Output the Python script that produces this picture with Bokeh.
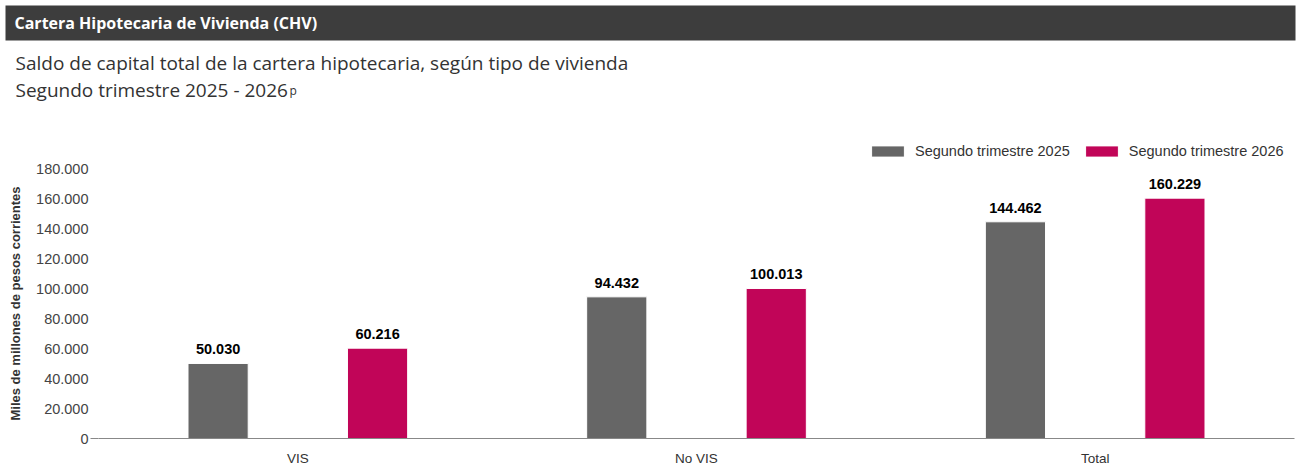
#Cartera Hipotecaria de Vivienda - bokeh bar chart

from bokeh.plotting import figure
from bokeh.layouts import column
from bokeh.models import (ColumnDataSource, FactorRange, Range1d, FixedTicker,
                          Legend, LegendItem, LinearAxis)
from bokeh.transform import dodge
from bokeh.core.properties import value
from bokeh.embed import file_html
from bokeh.resources import INLINE

#data
categorias = ["VIS", "No VIS", "Total"]
trim_2025 = [50030, 94432, 144462]
trim_2026 = [60216, 100013, 160229]
series = ["Segundo trimestre 2025", "Segundo trimestre 2026"]
y_ticks = [0, 20000, 40000, 60000, 80000, 100000, 120000, 140000, 160000, 180000]
y_tick_labels = ["0", "20.000", "40.000", "60.000", "80.000", "100.000",
                 "120.000", "140.000", "160.000", "180.000"]

titulo = "Cartera Hipotecaria de Vivienda (CHV)"
subtitulo1 = "Saldo de capital total de la cartera hipotecaria, según tipo de vivienda"
subtitulo2 = "Segundo trimestre 2025 - 2026"

GRIS = "#666666"
ROJO = "#C10558"
W = 1300
H1 = 159
H2 = 468 - H1


def miles(v):
    return f"{v:,}".replace(",", ".")


#header (title band, subtitles and legend)
h = figure(width=W, height=H1, x_range=Range1d(0, W), y_range=Range1d(H1, 0),
           toolbar_location=None, output_backend="svg", x_axis_location=None,
           y_axis_location=None, min_border=0, outline_line_color=None)
h.frame_align = False
h.grid.visible = False
h.quad(left=[5], right=[1295], top=[5], bottom=[40], fill_color="#3d3d3d", line_color=None)
h.text(x=[14], y=[22], text=[titulo], text_baseline="middle", text_color="white",
       text_font=value("Open Sans"), text_font_style="bold", text_font_size="16px")
h.text(x=[15], y=[62], text=[subtitulo1], text_baseline="middle", text_color="#333333",
       text_font=value("Open Sans"), text_font_size="19px")
h.text(x=[15], y=[89], text=[subtitulo2], text_baseline="middle", text_color="#333333",
       text_font=value("Open Sans"), text_font_size="19px")
h.text(x=[289], y=[90], text=["p"], text_baseline="alphabetic", text_color="#333333",
       text_font=value("Open Sans"), text_font_size="12px")

# legend swatches: zero-height bars out of view, used only by the legend
la = h.vbar(x=[-50], top=[0], width=1, fill_color=GRIS, line_color="white")
lb = h.vbar(x=[-50], top=[0], width=1, fill_color=ROJO, line_color="white")
legend = Legend(items=[LegendItem(label=series[0], renderers=[la]),
                       LegendItem(label=series[1], renderers=[lb])],
                orientation="horizontal", location=(867, 0),
                glyph_width=41, glyph_height=14, label_height=14,
                label_standoff=7, spacing=11, padding=0, margin=0,
                border_line_color=None, background_fill_alpha=0,
                label_text_font="Liberation Sans", label_text_font_size="14.5px",
                label_text_color="#333333")
h.add_layout(legend)

#chart
src = ColumnDataSource(dict(cat=categorias, a=trim_2025, b=trim_2026,
                            la=[miles(v) for v in trim_2025],
                            lb=[miles(v) for v in trim_2026]))

p = figure(width=W, height=H2,
           x_range=FactorRange(factors=categorias, range_padding=0),
           y_range=Range1d(0, 180000), y_axis_location=None,
           toolbar_location=None, output_backend="svg",
           min_border_left=98, min_border_right=6, min_border_top=9, min_border_bottom=30,
           outline_line_color=None)
p.frame_align = False
p.grid.visible = False

p.vbar(x=dodge("cat", -0.2, range=p.x_range), top="a", width=0.151, source=src,
       fill_color=GRIS, line_color="white", line_width=1)
p.vbar(x=dodge("cat", 0.2, range=p.x_range), top="b", width=0.151, source=src,
       fill_color=ROJO, line_color="white", line_width=1)

p.text(x=dodge("cat", -0.2, range=p.x_range), y="a", text="la", source=src,
       text_align="center", text_baseline="bottom", y_offset=-9,
       text_font=value("Liberation Sans"), text_font_style="bold",
       text_font_size="14.5px", text_color="black")
p.text(x=dodge("cat", 0.2, range=p.x_range), y="b", text="lb", source=src,
       text_align="center", text_baseline="bottom", y_offset=-9,
       text_font=value("Liberation Sans"), text_font_style="bold",
       text_font_size="14.5px", text_color="black")

#x axis
p.xaxis.axis_line_color = "#888888"
p.xaxis.major_tick_line_color = None
p.xaxis.major_tick_out = 0
p.xaxis.minor_tick_line_color = None
p.xaxis.major_label_standoff = 12
p.xaxis.major_label_text_font = "Liberation Sans"
p.xaxis.major_label_text_font_size = "13.5px"
p.xaxis.major_label_text_color = "#333333"

#small tick at 0, then the labelled y axis
y0 = LinearAxis(ticker=FixedTicker(ticks=[0]), axis_line_color=None,
                major_tick_in=0, major_tick_out=8, major_tick_line_color="#888888",
                minor_tick_line_color=None, major_label_overrides={0: ""},
                major_label_standoff=0)
p.add_layout(y0, "left")

yax = LinearAxis(ticker=FixedTicker(ticks=y_ticks),
                 major_label_overrides={t: l for t, l in zip(y_ticks, y_tick_labels)},
                 axis_line_color=None, major_tick_line_color=None, major_tick_out=0,
                 minor_tick_line_color=None, major_label_standoff=2,
                 major_label_text_font="Liberation Sans",
                 major_label_text_font_size="14.5px", major_label_text_color="#444444",
                 axis_label="Miles de millones de pesos corrientes",
                 axis_label_text_font="Liberation Sans", axis_label_text_font_style="bold",
                 axis_label_text_font_size="13px", axis_label_text_color="#333333",
                 axis_label_standoff=10)
p.add_layout(yax, "left")

layout = column(h, p, spacing=0)
open("out.html", "w").write(file_html(layout, INLINE))
